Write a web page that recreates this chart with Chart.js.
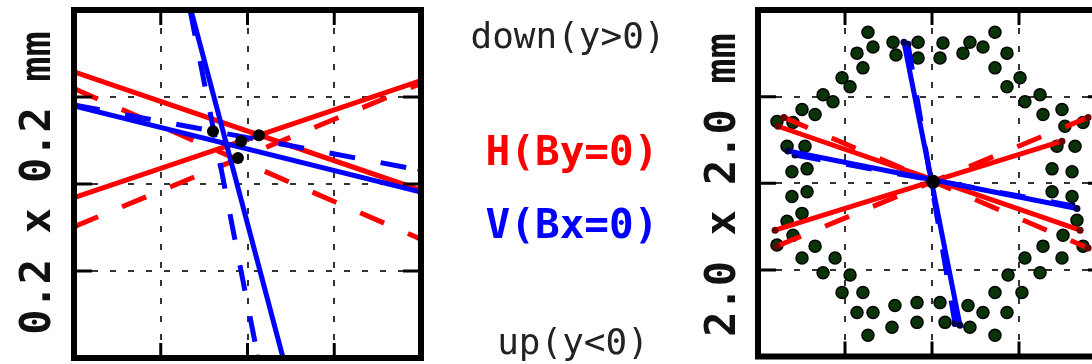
<!DOCTYPE html>
<html>
<head>
<meta charset="utf-8">
<script src="https://cdn.jsdelivr.net/npm/chart.js@4.4.1/dist/chart.umd.min.js"></script>
<style>
  html, body { margin: 0; padding: 0; background: #fff; }
  body { width: 1092px; height: 364px; overflow: hidden; position: relative; }
  canvas { position: absolute; top: 0; }
  #small { left: 64px; }
  #large { left: 748px; }
  svg { position: absolute; left: 0; top: 0; }
</style>
</head>
<body>
<canvas id="small" width="367" height="364"></canvas>
<canvas id="large" width="368" height="364"></canvas>
<svg width="1092" height="364">
  <g font-family="'DejaVu Sans Mono', monospace" text-anchor="middle">
    <text x="568" y="48" font-size="36" fill="#222">down(y&gt;0)</text>
    <text x="572" y="165" font-size="41" font-weight="bold" fill="#ff0000">H(By=0)</text>
    <text x="572" y="238" font-size="41" font-weight="bold" fill="#0000ff">V(Bx=0)</text>
    <text x="573" y="354" font-size="36" fill="#222">up(y&lt;0)</text>
    <text x="50" y="183" font-size="42" font-weight="bold" fill="#111" transform="rotate(-90 50 183)">0.2 x 0.2 mm</text>
    <text x="735" y="185" font-size="42" font-weight="bold" fill="#111" transform="rotate(-90 735 185)">2.0 x 2.0 mm</text>
  </g>
</svg>
<script>
// ---- small window: 0.2 x 0.2 mm, values in mm ----
const smallTicks = [-0.1, -0.05, 0, 0.05, 0.1];

const hSolidA = [[-0.1, 0.0644], [0.1, -0.0036]];
const hSolidB = [[-0.1, -0.0078], [0.1, 0.0594]];
const hDashA = [[-0.1, 0.0548], [0.1, -0.0317]];
const hDashB = [[-0.1, -0.0245], [0.1, 0.0578]];

const vSolidA = [[-0.1, 0.0449], [0.1, -0.0047]];
const vSolidB = [[-0.0326, 0.1], [0.0205, -0.1]];
const vDashA = [[-0.1, 0.0454], [0.1, 0.0079]];
const vDashB = [[-0.0331, 0.1], [0.0061, -0.1]];

const smallCenters = [[-0.0199, 0.0303], [-0.0037, 0.0246], [0.0066, 0.028], [-0.0055, 0.0149]];

// ---- large window: 2.0 x 2.0 mm ----
const largeTicks = [-1, -0.5, 0, 0.5, 1];

const hSolidL1 = [[-0.885, 0.329], [0.851, -0.271]];
const hSolidL2 = [[-0.902, -0.271], [0.747, 0.243]];
const hDashL1 = [[-0.851, 0.38], [0.897, -0.374]];
const hDashL2 = [[-0.891, -0.363], [0.897, 0.38]];

const vSolidL1 = [[-0.828, 0.186], [0.833, -0.146]];
const vSolidL2 = [[-0.161, 0.814], [0.161, -0.82]];
const vDashL1 = [[-0.787, 0.163], [0.805, -0.129]];
const vDashL2 = [[-0.138, 0.803], [0.132, -0.809]];

const largeCenter = [[0.006, 0.009]];

// measured wire positions
const wirePoints = [
  [-0.368, 0.871], [-0.339, 0.786], [-0.224, 0.814], [-0.080, 0.814], [-0.431, 0.751],
  [-0.207, 0.740], [-0.080, 0.723], [-0.397, 0.666], [-0.517, 0.609], [-0.471, 0.557],
  [-0.626, 0.511], [-0.569, 0.471], [-0.747, 0.426], [-0.672, 0.397], [-0.891, 0.357],
  [-0.799, 0.351], [-0.833, 0.214], [-0.730, 0.214], [-0.805, 0.066], [-0.718, 0.083],
  [0.362, 0.871], [0.218, 0.814], [0.063, 0.809], [0.293, 0.786], [0.046, 0.723],
  [0.178, 0.751], [0.431, 0.751], [0.362, 0.666], [0.506, 0.609], [0.431, 0.557],
  [0.621, 0.511], [0.534, 0.471], [0.747, 0.426], [0.638, 0.397], [0.764, 0.329],
  [0.868, 0.351], [0.718, 0.214], [0.822, 0.214], [0.690, 0.083], [0.805, 0.066],
  [-0.805, -0.077], [-0.718, -0.049], [-0.747, -0.174], [-0.833, -0.220], [-0.799, -0.300],
  [-0.891, -0.357], [-0.672, -0.363], [-0.747, -0.431], [-0.557, -0.431], [-0.626, -0.517],
  [-0.471, -0.529], [-0.517, -0.631], [-0.397, -0.631], [-0.431, -0.746], [-0.339, -0.746],
  [-0.368, -0.877], [-0.213, -0.706], [-0.230, -0.831], [-0.086, -0.689], [-0.086, -0.803],
  [0.690, -0.049], [0.805, -0.077], [0.833, -0.214], [0.753, -0.300], [0.868, -0.363],
  [0.638, -0.363], [0.747, -0.431], [0.534, -0.431], [0.621, -0.517], [0.437, -0.529],
  [0.517, -0.631], [0.362, -0.631], [0.431, -0.746], [0.293, -0.746], [0.362, -0.877],
  [0.046, -0.689], [0.075, -0.803], [0.218, -0.831], [0.207, -0.706]
];

function pts(arr) {
  return arr.map(([x, y]) => ({ x, y }));
}

function lineSet(arr, color, dashed, markColor, order) {
  return {
    data: pts(arr),
    showLine: true,
    borderColor: color,
    borderWidth: 5,
    borderDash: dashed ? [26, 26] : [],
    pointRadius: 3.5,
    pointBackgroundColor: markColor,
    pointBorderWidth: 0,
    order: order
  };
}

function axis(ticks) {
  return {
    type: 'linear',
    min: ticks[0],
    max: ticks[ticks.length - 1],
    afterBuildTicks: s => { s.ticks = ticks.map(v => ({ value: v })); },
    ticks: { display: false },
    grid: { color: '#333', lineWidth: 2, drawTicks: false },
    border: { display: false, dash: [6, 12] }
  };
}

// thick box round the plot with short inner ticks
const framePlugin = {
  id: 'frame',
  afterDraw(chart) {
    const { ctx, chartArea: a, scales } = chart;
    ctx.save();
    ctx.strokeStyle = '#000';
    ctx.lineWidth = 3;
    scales.x.ticks.forEach(t => {
      const px = scales.x.getPixelForValue(t.value);
      if (px <= a.left + 1 || px >= a.right - 1) return;
      ctx.beginPath();
      ctx.moveTo(px, a.top); ctx.lineTo(px, a.top + 15);
      ctx.moveTo(px, a.bottom); ctx.lineTo(px, a.bottom - 15);
      ctx.stroke();
    });
    scales.y.ticks.forEach(t => {
      const py = scales.y.getPixelForValue(t.value);
      if (py <= a.top + 1 || py >= a.bottom - 1) return;
      ctx.beginPath();
      ctx.moveTo(a.left, py); ctx.lineTo(a.left + 18, py);
      ctx.moveTo(a.right, py); ctx.lineTo(a.right - 18, py);
      ctx.stroke();
    });
    ctx.lineWidth = 6;
    ctx.strokeRect(a.left, a.top, a.right - a.left, a.bottom - a.top);
    ctx.restore();
  }
};

function makeChart(id, ticks, datasets) {
  return new Chart(document.getElementById(id), {
    type: 'scatter',
    data: { datasets },
    options: {
      responsive: false,
      animation: false,
      events: [],
      layout: { padding: { left: 10, right: 10, top: 10, bottom: 4 } },
      plugins: { legend: { display: false }, tooltip: { enabled: false } },
      scales: { x: axis(ticks), y: axis(ticks) }
    },
    plugins: [framePlugin]
  });
}

const RED = '#ff0000', BLUE = '#0000ff', DARKRED = '#6a0000', DARKBLUE = '#000050';

makeChart('small', smallTicks, [
  { data: pts(smallCenters), pointRadius: 6, pointBackgroundColor: '#000', pointBorderWidth: 0, order: 0 },
  lineSet(vSolidA, BLUE, false, DARKBLUE, 1),
  lineSet(vSolidB, BLUE, false, DARKBLUE, 1),
  lineSet(vDashA, BLUE, true, DARKBLUE, 1),
  lineSet(vDashB, BLUE, true, DARKBLUE, 1),
  lineSet(hSolidA, RED, false, DARKRED, 2),
  lineSet(hSolidB, RED, false, DARKRED, 2),
  lineSet(hDashA, RED, true, DARKRED, 2),
  lineSet(hDashB, RED, true, DARKRED, 2)
]);

makeChart('large', largeTicks, [
  { data: pts(largeCenter), pointRadius: 7, pointBackgroundColor: '#000', pointBorderWidth: 0, order: 0 },
  lineSet(vSolidL1, BLUE, false, DARKBLUE, 1),
  lineSet(vSolidL2, BLUE, false, DARKBLUE, 1),
  lineSet(vDashL1, BLUE, true, DARKBLUE, 1),
  lineSet(vDashL2, BLUE, true, DARKBLUE, 1),
  lineSet(hSolidL1, RED, false, DARKRED, 2),
  lineSet(hSolidL2, RED, false, DARKRED, 2),
  lineSet(hDashL1, RED, true, DARKRED, 2),
  lineSet(hDashL2, RED, true, DARKRED, 2),
  { data: pts(wirePoints), pointRadius: 6, pointBackgroundColor: '#083408',
    pointBorderColor: '#000', pointBorderWidth: 1.5, order: 3 }
]);
</script>
</body>
</html>
